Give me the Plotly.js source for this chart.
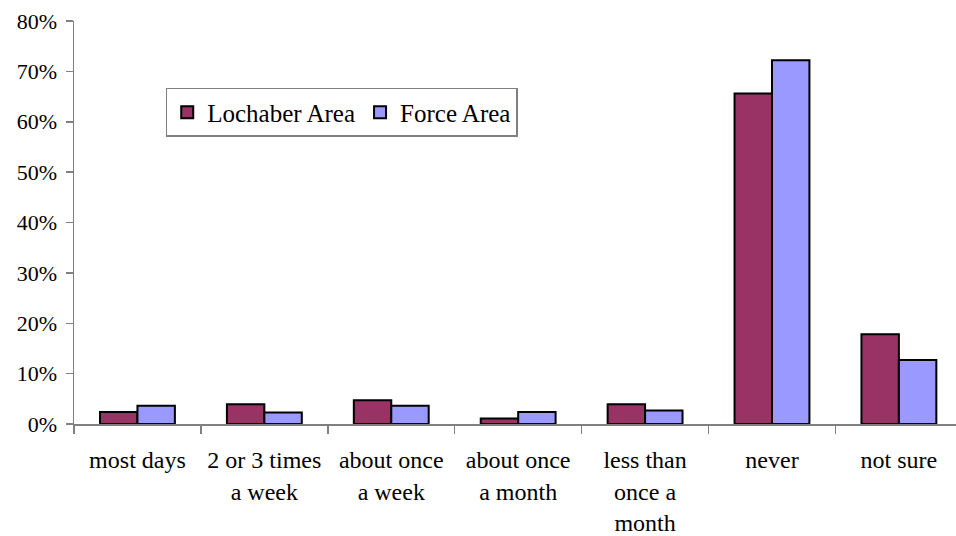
<!DOCTYPE html>
<html>
<head>
<meta charset="utf-8">
<script src="https://cdn.plot.ly/plotly-3.0.1.min.js"></script>
<style>html,body{margin:0;padding:0;background:#fff;}</style>
</head>
<body>
<div id="chart" style="width:956px;height:536px;"></div>
<script>
var categories = ["most days", "2 or 3 times<br>a week", "about once<br>a week", "about once<br>a month", "less than<br>once a<br>month", "never", "not sure"];
var lochaber = [2.4, 3.9, 4.7, 1.1, 3.9, 65.6, 17.8];
var force = [3.6, 2.3, 3.6, 2.4, 2.7, 72.2, 12.7];
var yTicks = [0, 10, 20, 30, 40, 50, 60, 70, 80];
var yTickText = yTicks.map(function (v) { return v + "%"; });

var font = "Liberation Serif, Times New Roman, serif";
var traces = [
  {type: "bar", name: "Lochaber Area", x: categories, y: lochaber,
   marker: {color: "#993366", line: {color: "#000", width: 2}}},
  {type: "bar", name: "Force Area", x: categories, y: force,
   marker: {color: "#9999FF", line: {color: "#000", width: 2}}}
];
var layout = {
  width: 956, height: 536,
  margin: {l: 74, r: 0, t: 21, b: 112},
  paper_bgcolor: "#fff", plot_bgcolor: "#fff",
  font: {family: font, size: 22, color: "#000"},
  barmode: "group", bargap: 0.41, bargroupgap: 0,
  showlegend: true,
  legend: {x: 0.104, y: 0.834, xanchor: "left", yanchor: "top", orientation: "h",
           bordercolor: "#808080", borderwidth: 1.5, bgcolor: "#fff",
           font: {family: font, size: 25, color: "#000"}, traceorder: "normal"},
  xaxis: {type: "category", range: [-0.5, 6.45], showgrid: false, zeroline: false,
          showline: true, linecolor: "#808080", linewidth: 1.5,
          ticks: "outside", tickson: "boundaries", ticklen: 8, tickcolor: "#808080", tickwidth: 1.5,
          tickfont: {family: font, size: 24, color: "#000"}, ticklabelstandoff: 14, fixedrange: true},
  yaxis: {range: [0, 80], tickmode: "array", tickvals: yTicks, ticktext: yTickText, showgrid: false, zeroline: false,
          showline: true, linecolor: "#808080", linewidth: 1.5,
          ticks: "outside", ticklen: 7, tickcolor: "#808080", tickwidth: 1.5,
          tickfont: {family: font, size: 22, color: "#000"}, ticklabelstandoff: 4, fixedrange: true}
};
Plotly.newPlot("chart", traces, layout, {displayModeBar: false, staticPlot: true});
</script>
</body>
</html>
